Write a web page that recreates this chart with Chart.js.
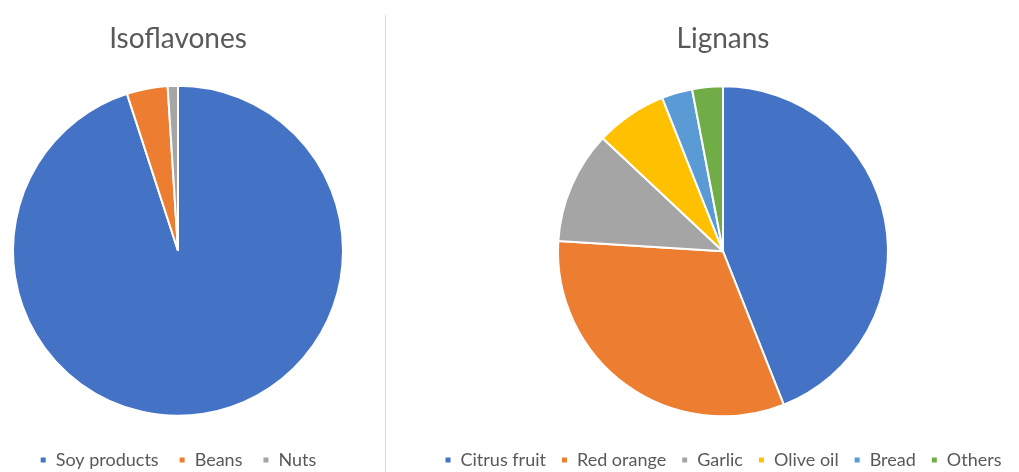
<!DOCTYPE html>
<html>
<head>
<meta charset="utf-8">
<script src="https://cdn.jsdelivr.net/npm/chart.js@4/dist/chart.umd.min.js"></script>
<style>
  html, body { margin: 0; padding: 0; background: #fff; width: 1019px; height: 472px; overflow: hidden; }
  #left { position: absolute; left: 0; top: 0; width: 356px; height: 479px; }
  #right { position: absolute; left: 427px; top: 0; width: 592px; height: 479px; }
  #sep { position: absolute; left: 385px; top: 15px; width: 1px; height: 457px; background: #d9d9d9; }
</style>
</head>
<body>
<div id="sep"></div>
<div id="left"><canvas id="c1"></canvas></div>
<div id="right"><canvas id="c2"></canvas></div>
<script>
const isoTitle = 'Isoflavones';
const isoLabels = ['Soy products', 'Beans', 'Nuts'];
const isoValues = [95, 4, 1];
const isoColors = ['#4472C4', '#ED7D31', '#A5A5A5'];

const ligTitle = 'Lignans';
const ligLabels = ['Citrus fruit', 'Red orange', 'Garlic', 'Olive oil', 'Bread', 'Others'];
const ligValues = [44, 32, 11, 7, 3, 3];
const ligColors = ['#4472C4', '#ED7D31', '#A5A5A5', '#FFC000', '#5B9BD5', '#70AD47'];

const FONT = 'Lato, "Open Sans", sans-serif';
const TXT = '#595959';

function makePie(id, title, labels, values, colors, legendPad, titleGap) {
  return new Chart(document.getElementById(id), {
    type: 'pie',
    data: {
      labels: labels,
      datasets: [{
        data: values,
        backgroundColor: colors,
        borderColor: '#ffffff',
        borderWidth: 2,
        hoverOffset: 0
      }]
    },
    options: {
      responsive: true,
      maintainAspectRatio: false,
      animation: false,
      radius: 165,
      layout: { padding: 0 },
      plugins: {
        title: {
          display: true,
          text: title,
          color: TXT,
          font: { family: FONT, size: 28, weight: 'normal' },
          padding: { top: 22, bottom: titleGap }
        },
        legend: {
          display: true,
          position: 'bottom',
          labels: {
            color: TXT,
            font: { family: FONT, size: 18 },
            boxWidth: 7,
            boxHeight: 7,
            padding: legendPad
          }
        },
        tooltip: { enabled: false }
      }
    }
  });
}

makePie('c1', isoTitle, isoLabels, isoValues, isoColors, 20, 15);
makePie('c2', ligTitle, ligLabels, ligValues, ligColors, 15, 11);
</script>
</body>
</html>
